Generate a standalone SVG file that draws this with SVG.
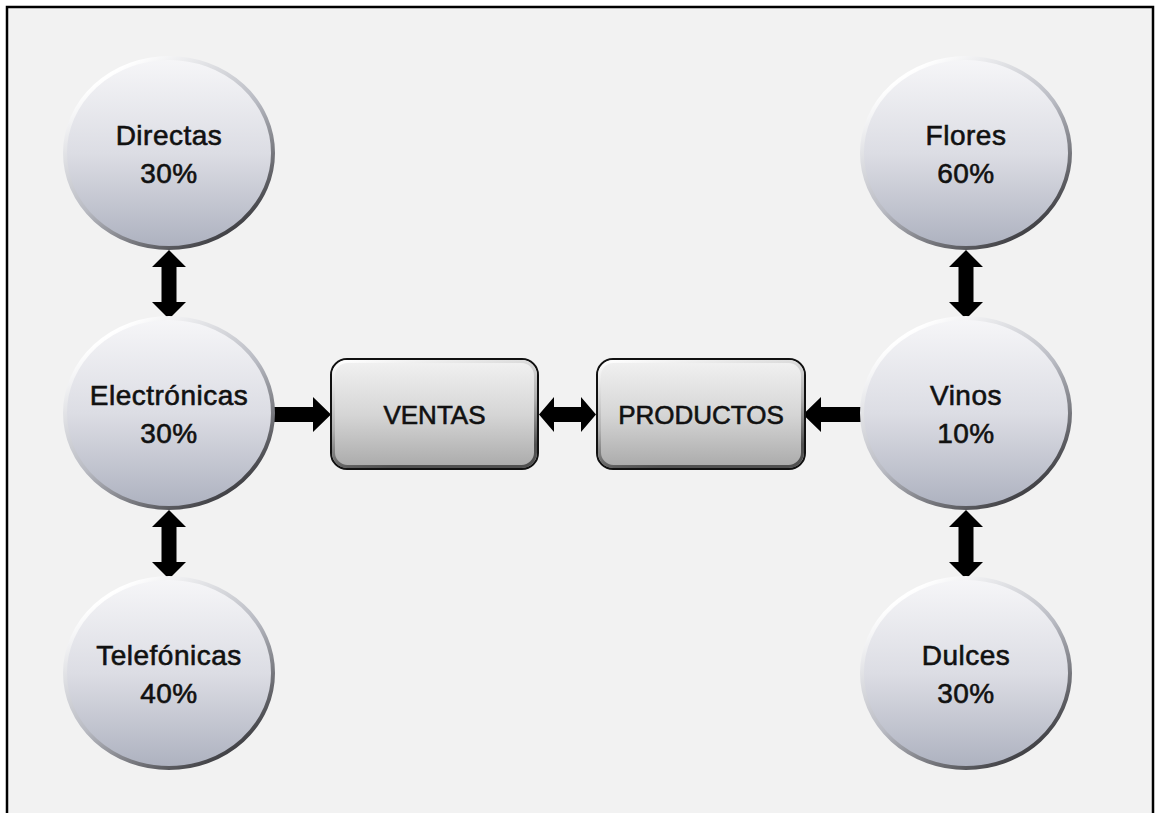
<svg xmlns="http://www.w3.org/2000/svg" width="1158" height="813" viewBox="0 0 1158 813">
<defs>
<linearGradient id="cfill" x1="0" y1="0" x2="0" y2="1">
<stop offset="0" stop-color="#f6f6f8"/>
<stop offset="0.5" stop-color="#dcdde4"/>
<stop offset="1" stop-color="#adb1bf"/>
</linearGradient>
<linearGradient id="cedge" x1="0.2" y1="0.1" x2="0.8" y2="0.95">
<stop offset="0" stop-color="#ffffff"/>
<stop offset="0.5" stop-color="#b8bac2"/>
<stop offset="1" stop-color="#3a3a3e"/>
</linearGradient>
<linearGradient id="bfill" x1="0" y1="0" x2="0" y2="1">
<stop offset="0" stop-color="#f2f2f2"/>
<stop offset="0.5" stop-color="#d6d6d6"/>
<stop offset="1" stop-color="#a9a9a9"/>
</linearGradient>
<linearGradient id="bedge" x1="0" y1="0" x2="0.3" y2="1">
<stop offset="0" stop-color="#ffffff"/>
<stop offset="0.6" stop-color="#b0b0b0"/>
<stop offset="1" stop-color="#505050"/>
</linearGradient>
</defs>
<style>
.circ{fill:url(#cfill);stroke:url(#cedge);stroke-width:4}
.box{fill:url(#bfill);stroke:#111;stroke-width:2}
.boxin{fill:none;stroke:url(#bedge);stroke-width:3}
.ct{font-family:"Liberation Sans",Arial,sans-serif;font-size:28px;letter-spacing:0.5px;fill:#111;stroke:#111;stroke-width:0.6;text-anchor:middle}
.bt{font-family:"Liberation Sans",Arial,sans-serif;font-size:26px;fill:#111;stroke:#111;stroke-width:0.6;text-anchor:middle}
.arr{fill:#000}
</style>
<rect x="0" y="0" width="1158" height="813" fill="#ffffff"/>
<rect x="7" y="7" width="1146" height="830" fill="#f2f2f2" stroke="#000" stroke-width="2.5"/>

<g id="connectors">
<polygon class="arr" points="169,250 186,267 176.5,267 176.5,302 186,302 169,319 152,302 161.5,302 161.5,267 152,267"/>
<polygon class="arr" points="169,510 186,527 176.5,527 176.5,562 186,562 169,579 152,562 161.5,562 161.5,527 152,527"/>
<polygon class="arr" points="966,250 983,267 973.5,267 973.5,302 983,302 966,319 949,302 958.5,302 958.5,267 949,267"/>
<polygon class="arr" points="966,510 983,527 973.5,527 973.5,562 983,562 966,579 949,562 958.5,562 958.5,527 949,527"/>
<polygon class="arr" points="270,407 313,407 313,397 331,414.5 313,432 313,422 270,422"/>
<polygon class="arr" points="539,414.5 554,397 554,407 581,407 581,397 596,414.5 581,432 581,422 554,422 554,432"/>
<polygon class="arr" points="865,407 821,407 821,397 803,414.5 821,432 821,422 865,422"/>
</g>

<g id="directas">
<ellipse class="circ" cx="169" cy="153" rx="104" ry="95"/>
<text class="ct" x="169" y="145">Directas</text>
<text class="ct" x="169" y="183">30%</text>
</g>
<g id="electronicas">
<ellipse class="circ" cx="169" cy="413" rx="104" ry="95"/>
<text class="ct" x="169" y="405">Electrónicas</text>
<text class="ct" x="169" y="443">30%</text>
</g>
<g id="telefonicas">
<ellipse class="circ" cx="169" cy="673" rx="104" ry="95"/>
<text class="ct" x="169" y="665">Telefónicas</text>
<text class="ct" x="169" y="703">40%</text>
</g>
<g id="flores">
<ellipse class="circ" cx="966" cy="153" rx="104" ry="95"/>
<text class="ct" x="966" y="145">Flores</text>
<text class="ct" x="966" y="183">60%</text>
</g>
<g id="vinos">
<ellipse class="circ" cx="966" cy="413" rx="104" ry="95"/>
<text class="ct" x="966" y="405">Vinos</text>
<text class="ct" x="966" y="443">10%</text>
</g>
<g id="dulces">
<ellipse class="circ" cx="966" cy="673" rx="104" ry="95"/>
<text class="ct" x="966" y="665">Dulces</text>
<text class="ct" x="966" y="703">30%</text>
</g>

<g id="ventas">
<rect class="box" x="331" y="359" width="207" height="110" rx="16"/>
<rect class="boxin" x="333.5" y="361.5" width="202" height="105" rx="14"/>
<text class="bt" x="434.5" y="423.5">VENTAS</text>
</g>
<g id="productos">
<rect class="box" x="597" y="359" width="208" height="110" rx="16"/>
<rect class="boxin" x="599.5" y="361.5" width="203" height="105" rx="14"/>
<text class="bt" x="701" y="423.5">PRODUCTOS</text>
</g>
</svg>
